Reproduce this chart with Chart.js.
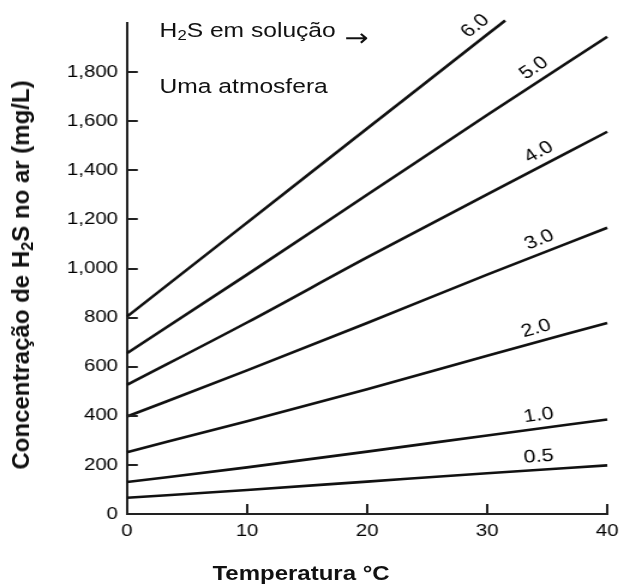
<!DOCTYPE html>
<html><head><meta charset="utf-8">
<script src="https://cdn.jsdelivr.net/npm/chart.js@4"></script>
<style>
html,body{margin:0;padding:0;background:#fff;overflow:hidden;width:619px;height:586px;}
#wrap{position:absolute;left:0;top:0;width:516px;height:586px;transform:scaleX(1.2);transform-origin:0 0;}
#wrap canvas{position:absolute;left:0;top:0;}
.t{position:absolute;font-family:"Liberation Sans",Arial,sans-serif;color:#111;white-space:nowrap;line-height:1;}
.t sub{font-size:0.68em;vertical-align:-0.22em;line-height:0;}
#t1{left:133px;top:20px;font-size:20.5px;}
#arr{left:287px;top:26px;font-size:24px;font-family:"DejaVu Sans",sans-serif;}
#t2{left:133px;top:76px;font-size:20.5px;}
#xt{left:177px;top:563px;font-size:20px;font-weight:bold;}
#yt{left:21px;top:275px;font-size:24px;font-weight:bold;transform:translate(-50%,-50%) rotate(-90deg);}
</style></head><body>
<div id="wrap">
<canvas id="c" width="516" height="586"></canvas>
<div class="t" id="t1">H<sub>2</sub>S em solução</div>
<div class="t" id="arr">→</div>
<div class="t" id="t2">Uma atmosfera</div>
<div class="t" id="xt">Temperatura °C</div>
</div>
<div class="t" id="yt">Concentração de H<sub>2</sub>S no ar (mg/L)</div>
<script>
// ---- data ----
const temperatures = [0, 10, 20, 30, 40];
const temps60 = [0, 10, 20, 30, 31.5];
const h2s05 = [66, 98, 132, 166, 198];
const h2s10 = [130, 190, 254, 320, 385];
const h2s20 = [252, 378, 508, 645, 778];
const h2s30 = [397, 585, 778, 975, 1166];
const h2s40 = [526, 780, 1045, 1302, 1557];
const h2s50 = [655, 975, 1300, 1625, 1944];
const h2s60 = [804, 1187, 1570, 1953, 2010];
const curveLabels = ['0.5', '1.0', '2.0', '3.0', '4.0', '5.0', '6.0'];
const xTickLabels = ['0', '10', '20', '30', '40'];
const yTickLabels = ['0', '200', '400', '600', '800', '1,000', '1,200', '1,400', '1,600', '1,800'];

const seriesY = [h2s05, h2s10, h2s20, h2s30, h2s40, h2s50, h2s60];
const seriesX = [temperatures, temperatures, temperatures, temperatures, temperatures, temperatures, temps60];

const datasets = seriesY.map((ys, i) => ({
  label: curveLabels[i],
  data: ys.map((v, j) => ({x: seriesX[i][j], y: v})),
  borderColor: '#111',
  borderWidth: 2.6,
  pointRadius: 0,
  fill: false,
  cubicInterpolationMode: 'monotone',
  clip: false
}));

const labelAtX = [34.4, 34.5, 34.5, 34.9, 35.0, 34.7, 29.9];

const FONT = '"Liberation Sans", Arial, sans-serif';

const decorations = {
  id: 'decorations',
  afterDraw(chart) {
    const ctx = chart.ctx;
    const xs = chart.scales.x, ys = chart.scales.y;
    const ca = chart.chartArea;
    ctx.save();
    ctx.strokeStyle = '#222';
    ctx.lineWidth = 2;
    ys.ticks.forEach(t => {
      if (t.value <= 0) return;
      const py = Math.round(ys.getPixelForValue(t.value));
      ctx.beginPath(); ctx.moveTo(ca.left, py); ctx.lineTo(ca.left + 9, py); ctx.stroke();
    });
    xs.ticks.forEach(t => {
      if (t.value <= 0) return;
      const px = Math.round(xs.getPixelForValue(t.value));
      ctx.beginPath(); ctx.moveTo(px, ca.bottom); ctx.lineTo(px, ca.bottom - 10); ctx.stroke();
    });
    // curve labels
    ctx.fillStyle = '#000';
    ctx.font = '18px ' + FONT;
    ctx.textAlign = 'center';
    ctx.textBaseline = 'middle';
    chart.data.datasets.forEach((ds, i) => {
      const pts = ds.data;
      const lx = labelAtX[i];
      let k = 0;
      while (k < pts.length - 2 && pts[k + 1].x < lx) k++;
      const a = pts[k], b = pts[k + 1];
      const f = (lx - a.x) / (b.x - a.x);
      const vy = a.y + f * (b.y - a.y);
      const px = xs.getPixelForValue(lx), py = ys.getPixelForValue(vy);
      const dx = xs.getPixelForValue(b.x) - xs.getPixelForValue(a.x);
      const dy = ys.getPixelForValue(b.y) - ys.getPixelForValue(a.y);
      const ang = Math.atan2(dy, dx);
      const off = 13;
      const cx = px + Math.sin(ang) * off, cy = py - Math.cos(ang) * off;
      ctx.save();
      ctx.translate(cx, cy);
      ctx.rotate(ang);
      ctx.fillText(curveLabels[i], 0, 0);
      ctx.restore();
    });
    ctx.restore();
  }
};

new Chart(document.getElementById('c'), {
  type: 'line',
  data: {datasets},
  options: {
    responsive: false,
    animation: false,
    devicePixelRatio: 1,
    layout: {padding: {left: 0, right: 10, top: 23, bottom: 28}},
    plugins: {legend: {display: false}, tooltip: {enabled: false}},
    scales: {
      x: {
        type: 'linear', min: 0, max: 40,
        afterFit: s => { s.height = 44; s.paddingRight = 10; s.paddingLeft = 0; },
        ticks: {
          stepSize: 10, padding: 7, color: '#000', maxRotation: 0,
          font: {family: FONT, size: 17},
          callback: v => xTickLabels[Math.round(v / 10)]
        },
        grid: {display: true, drawOnChartArea: false, drawTicks: false},
        border: {display: true, color: '#222', width: 2}
      },
      y: {
        type: 'linear', min: 0, max: 2000,
        afterFit: s => { s.width = 105.8; },
        afterBuildTicks: s => { s.ticks = s.ticks.filter(t => t.value <= 1800); },
        ticks: {
          stepSize: 200, padding: 7.5, color: '#000',
          font: {family: FONT, size: 17},
          callback: v => yTickLabels[Math.round(v / 200)]
        },
        grid: {display: true, drawOnChartArea: false, drawTicks: false},
        border: {display: true, color: '#222', width: 2}
      }
    }
  },
  plugins: [decorations]
});
</script>
</body></html>
